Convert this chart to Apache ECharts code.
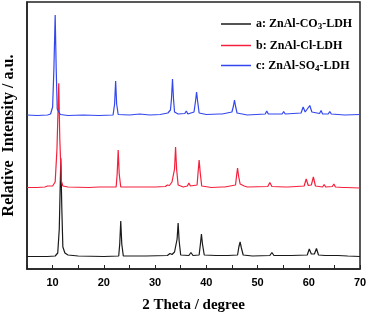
<!DOCTYPE html>
<html>
<head>
<meta charset="utf-8">
<script src="https://cdn.jsdelivr.net/npm/echarts@6/dist/echarts.min.js"></script>
<style>
    html, body { margin: 0; padding: 0; background: #fff; }
    #chart { width: 368px; height: 314px; }
</style>
</head>
<body>
<div id="chart"></div>
<script>
// 2 Theta (degree), relative intensity (patterns already stacked)
var seriesNames = ['a: ZnAl-CO3-LDH', 'b: ZnAl-Cl-LDH', 'c: ZnAl-SO4-LDH'];
var seriesColors = ['#1a1a1a', '#f5203c', '#3347ee'];

var co3 = [[5,12.5],[9,12.5],[10.5,13],[11.0,16],[11.3,40],[11.6,110.7],[11.8,60],[12.0,22],[12.4,16],[13,14],[15,13],[20,12.5],
    [22.9,13],[23.1,25],[23.3,48],[23.5,25],[23.8,13],[27.5,13],[27.8,14.5],[28.2,13],[32.4,13.5],[32.9,15.5],[33.3,14.5],
    [33.8,17],[34.1,16],[34.3,30],[34.5,46],[34.7,28],[35.0,14],[36.6,13.5],[37.0,16.5],[37.4,13.5],[38.6,14],[38.85,25],
    [39.05,35],[39.25,25],[39.6,14],[41.9,13.5],[43.6,13.5],[43.9,15],[44.2,13.5],[46.1,14],[46.35,22],[46.6,27],[46.85,21],
    [47.2,14],[49,13],[52.4,13.5],[52.8,16.5],[53.2,13.5],[56.0,13.5],[56.3,15],[56.6,13.5],[59.7,14],[60.1,20],[60.5,15],
    [61.1,15],[61.5,20.5],[61.9,14],[63.2,13.5],[63.5,15],[63.8,13.5],[65.1,13.5],[65.4,15],[65.7,13.5],[67.6,13],[70,12.5]];

var cl = [[5,81.5],[7,81.5],[8.5,82],[9.0,83],[9.3,85],[9.6,83],[10.0,83],[10.5,87],[10.85,120],[11.2,185.7],[11.4,130],
    [11.7,88],[12.0,83],[13,82],[17,81.5],[19.1,82],[19.4,84],[19.7,82],[22.4,82],[22.6,95],[22.8,119],[23.0,95],[23.3,82],
    [27,82],[30,82],[32.0,82.5],[32.4,84],[32.8,83.5],[33.3,87],[33.6,86],[33.8,100],[34.0,122],[34.2,100],[34.5,84],
    [35.5,82],[36.3,83],[36.6,86],[36.9,83],[38.2,84],[38.4,97],[38.6,109],[38.8,97],[39.1,83],[41,81.5],[43.0,82],
    [43.3,84],[43.6,82],[45.7,84],[45.9,93],[46.1,101],[46.3,93],[46.6,85],[47.4,83],[48,82],[52.0,82.5],[52.4,86.5],
    [52.8,82.5],[55.4,82],[55.7,84],[56.0,82],[59.1,83],[59.5,90],[59.9,83.5],[60.5,84],[60.9,92],[61.3,83],[62.7,82],
    [63.0,84.5],[63.3,82],[64.6,82.5],[64.9,85],[65.2,82],[66.7,81.5],[67.0,82.5],[67.3,81.5],[70,81]];

var so4 = [[5,154],[7,153.5],[9,154],[9.6,155],[10.0,162],[10.25,200],[10.5,254],[10.7,200],[10.9,160],[11.2,158],
    [11.5,154.5],[13,153.5],[16,154],[19,153.5],[21.8,154],[22.1,165],[22.3,188],[22.5,165],[22.8,154.5],[25,154],[27,155],
    [29,154],[31,154.5],[32.5,156],[33.0,159],[33.2,170],[33.4,190],[33.6,170],[33.8,157],[34.5,155],[35.8,155.5],
    [36.1,158],[36.4,155],[37.6,157],[37.9,168],[38.1,177],[38.3,168],[38.6,156],[40,154.5],[42.5,155],[42.8,156.5],
    [43.1,155],[45.0,157],[45.3,163],[45.5,169],[45.7,163],[46.0,156],[48,154],[51.5,155],[51.8,158],[52.1,155],
    [54.8,155],[55.1,157.5],[55.4,155],[58.5,156],[58.9,162],[59.3,157],[59.6,157],[60.2,163.5],[60.6,157],[62.1,155.5],
    [62.4,158.5],[62.7,155],[63.8,155],[64.1,157.5],[64.4,155],[67,154],[70,154.5]];

var patterns = [co3, cl, so4];

var serif = '"Liberation Serif", "DejaVu Serif", serif';

function legendLabel(name) {
    var m = name.match(/^(.*[A-Z])(\d)(-LDH)$/);
    if (m) {
        return '{t|' + m[1] + '}{s|' + m[2] + '}{t|' + m[3] + '}';
    }
    return '{t|' + name + '}';
}

var myChart = echarts.init(document.getElementById('chart'));

var series = [];
for (var i = 0; i < patterns.length; i++) {
    series.push({
        name: seriesNames[i],
        type: 'line',
        data: patterns[i],
        symbol: 'none',
        lineStyle: {color: seriesColors[i], width: 1.2},
        itemStyle: {color: seriesColors[i]}
    });
}

option = {
    animation: false,
    grid: {
        left: 27, right: 8, top: 2, bottom: 45,
        outerBoundsMode: 'none',
        show: true, borderColor: '#222', borderWidth: 1.5
    },
    legend: {
        orient: 'vertical',
        left: 216,
        top: 13,
        icon: 'rect',
        itemWidth: 30,
        itemHeight: 1.5,
        itemGap: 8,
        data: seriesNames,
        formatter: legendLabel,
        textStyle: {
            rich: {
                t: {fontFamily: serif, fontWeight: 'bold', fontSize: 12, color: '#000', height: 15},
                s: {fontFamily: serif, fontWeight: 'bold', fontSize: 9, color: '#000', padding: [6, 0, 0, 0]}
            }
        }
    },
    xAxis: {
        type: 'value',
        min: 5,
        max: 70,
        interval: 5,
        name: '2 Theta / degree',
        nameLocation: 'middle',
        nameGap: 29,
        nameTextStyle: {fontFamily: serif, fontWeight: 'bold', fontSize: 15, color: '#000'},
        axisLine: {lineStyle: {color: '#222', width: 1.5}},
        axisTick: {inside: true, length: 4, lineStyle: {color: '#222'}},
        axisLabel: {
            margin: 8,
            fontFamily: '"Liberation Sans", Arial, sans-serif',
            fontWeight: 'bold',
            fontSize: 11,
            color: '#000',
            formatter: function (v) { return v % 10 === 0 ? String(v) : ''; }
        },
        splitLine: {show: false}
    },
    yAxis: {
        type: 'value',
        min: 0,
        max: 267,
        name: 'Relative  Intensity / a.u.',
        nameLocation: 'middle',
        nameGap: 10,
        nameTextStyle: {fontFamily: serif, fontWeight: 'bold', fontSize: 16, color: '#000'},
        axisLine: {show: true, lineStyle: {color: '#222', width: 1.5}},
        axisTick: {show: false},
        axisLabel: {show: false},
        splitLine: {show: false}
    },
    series: series
};
myChart.setOption(option);
</script>
</body>
</html>
